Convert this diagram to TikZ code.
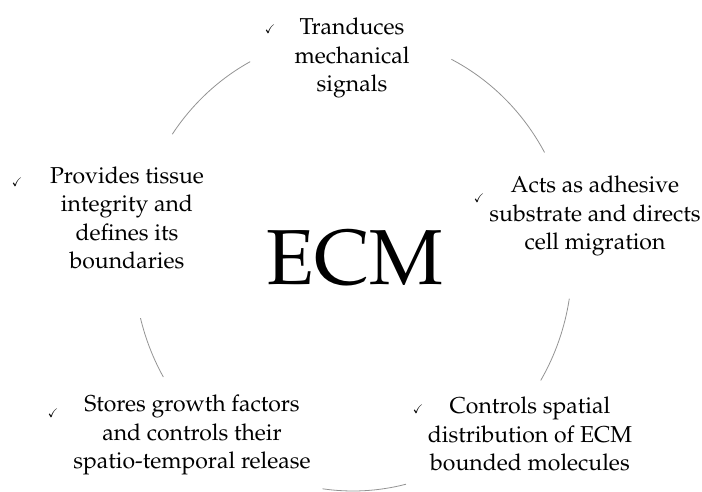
\documentclass[tikz,border=0pt]{standalone}
\usepackage[T1]{fontenc}
\usepackage{mathpazo}
\usepackage{amssymb}
\begin{document}
\begin{tikzpicture}[x=1pt,y=1pt,
  item/.style={align=center,inner sep=0pt,font=\fontsize{23}{28.5}\selectfont},
  tick/.style={inner sep=0pt,font=\fontsize{12}{12}\selectfont},
  ring/.style={draw=gray!85,line width=0.8pt}]
\useasboundingbox (0,0) rectangle (702,492);
\coordinate (c) at (353,229);
% arcs
\draw[ring] (c) ++(145.6:219 and 228) arc[start angle=145.6,end angle=118,x radius=219,y radius=228];
\draw[ring] (c) ++(63.3:219 and 228) arc[start angle=63.3,end angle=29,x radius=219,y radius=228];
\draw[ring] (c) ++(-9:219 and 228) arc[start angle=-9,end angle=-31,x radius=219,y radius=228];
\draw[ring] (c) ++(-76:219 and 228) arc[start angle=-76,end angle=-98,x radius=219,y radius=228];
\draw[ring] (c) ++(210:219 and 228) arc[start angle=210,end angle=194,x radius=219,y radius=228];
% centre
\node[inner sep=0pt,anchor=base,font=\fontsize{78}{80}\selectfont] (ecm) at (355,207) {ECM};
% items
\node[item] (t) at (352,434) {Tranduces\\mechanical\\signals};
\node[tick] (tt) at (270,463) {\checkmark};
\node[item] (l) at (127,274) {Provides tissue\\integrity and\\defines its\\boundaries};
\node[tick] (tl) at (17,310) {\checkmark};
\node[item] (r) at (595,276) {Acts as adhesive\\substrate and directs\\cell migration};
\node[tick] (tr) at (479,294) {\checkmark};
\node[item] (bl) at (192,57) {Stores growth factors\\and controls their\\spatio-temporal release};
\node[tick] (tbl) at (53,79) {\checkmark};
\node[item] (br) at (530,58) {Controls spatial\\distribution of ECM\\bounded molecules};
\node[tick] (tbr) at (418,83) {\checkmark};
\end{tikzpicture}
\end{document}
